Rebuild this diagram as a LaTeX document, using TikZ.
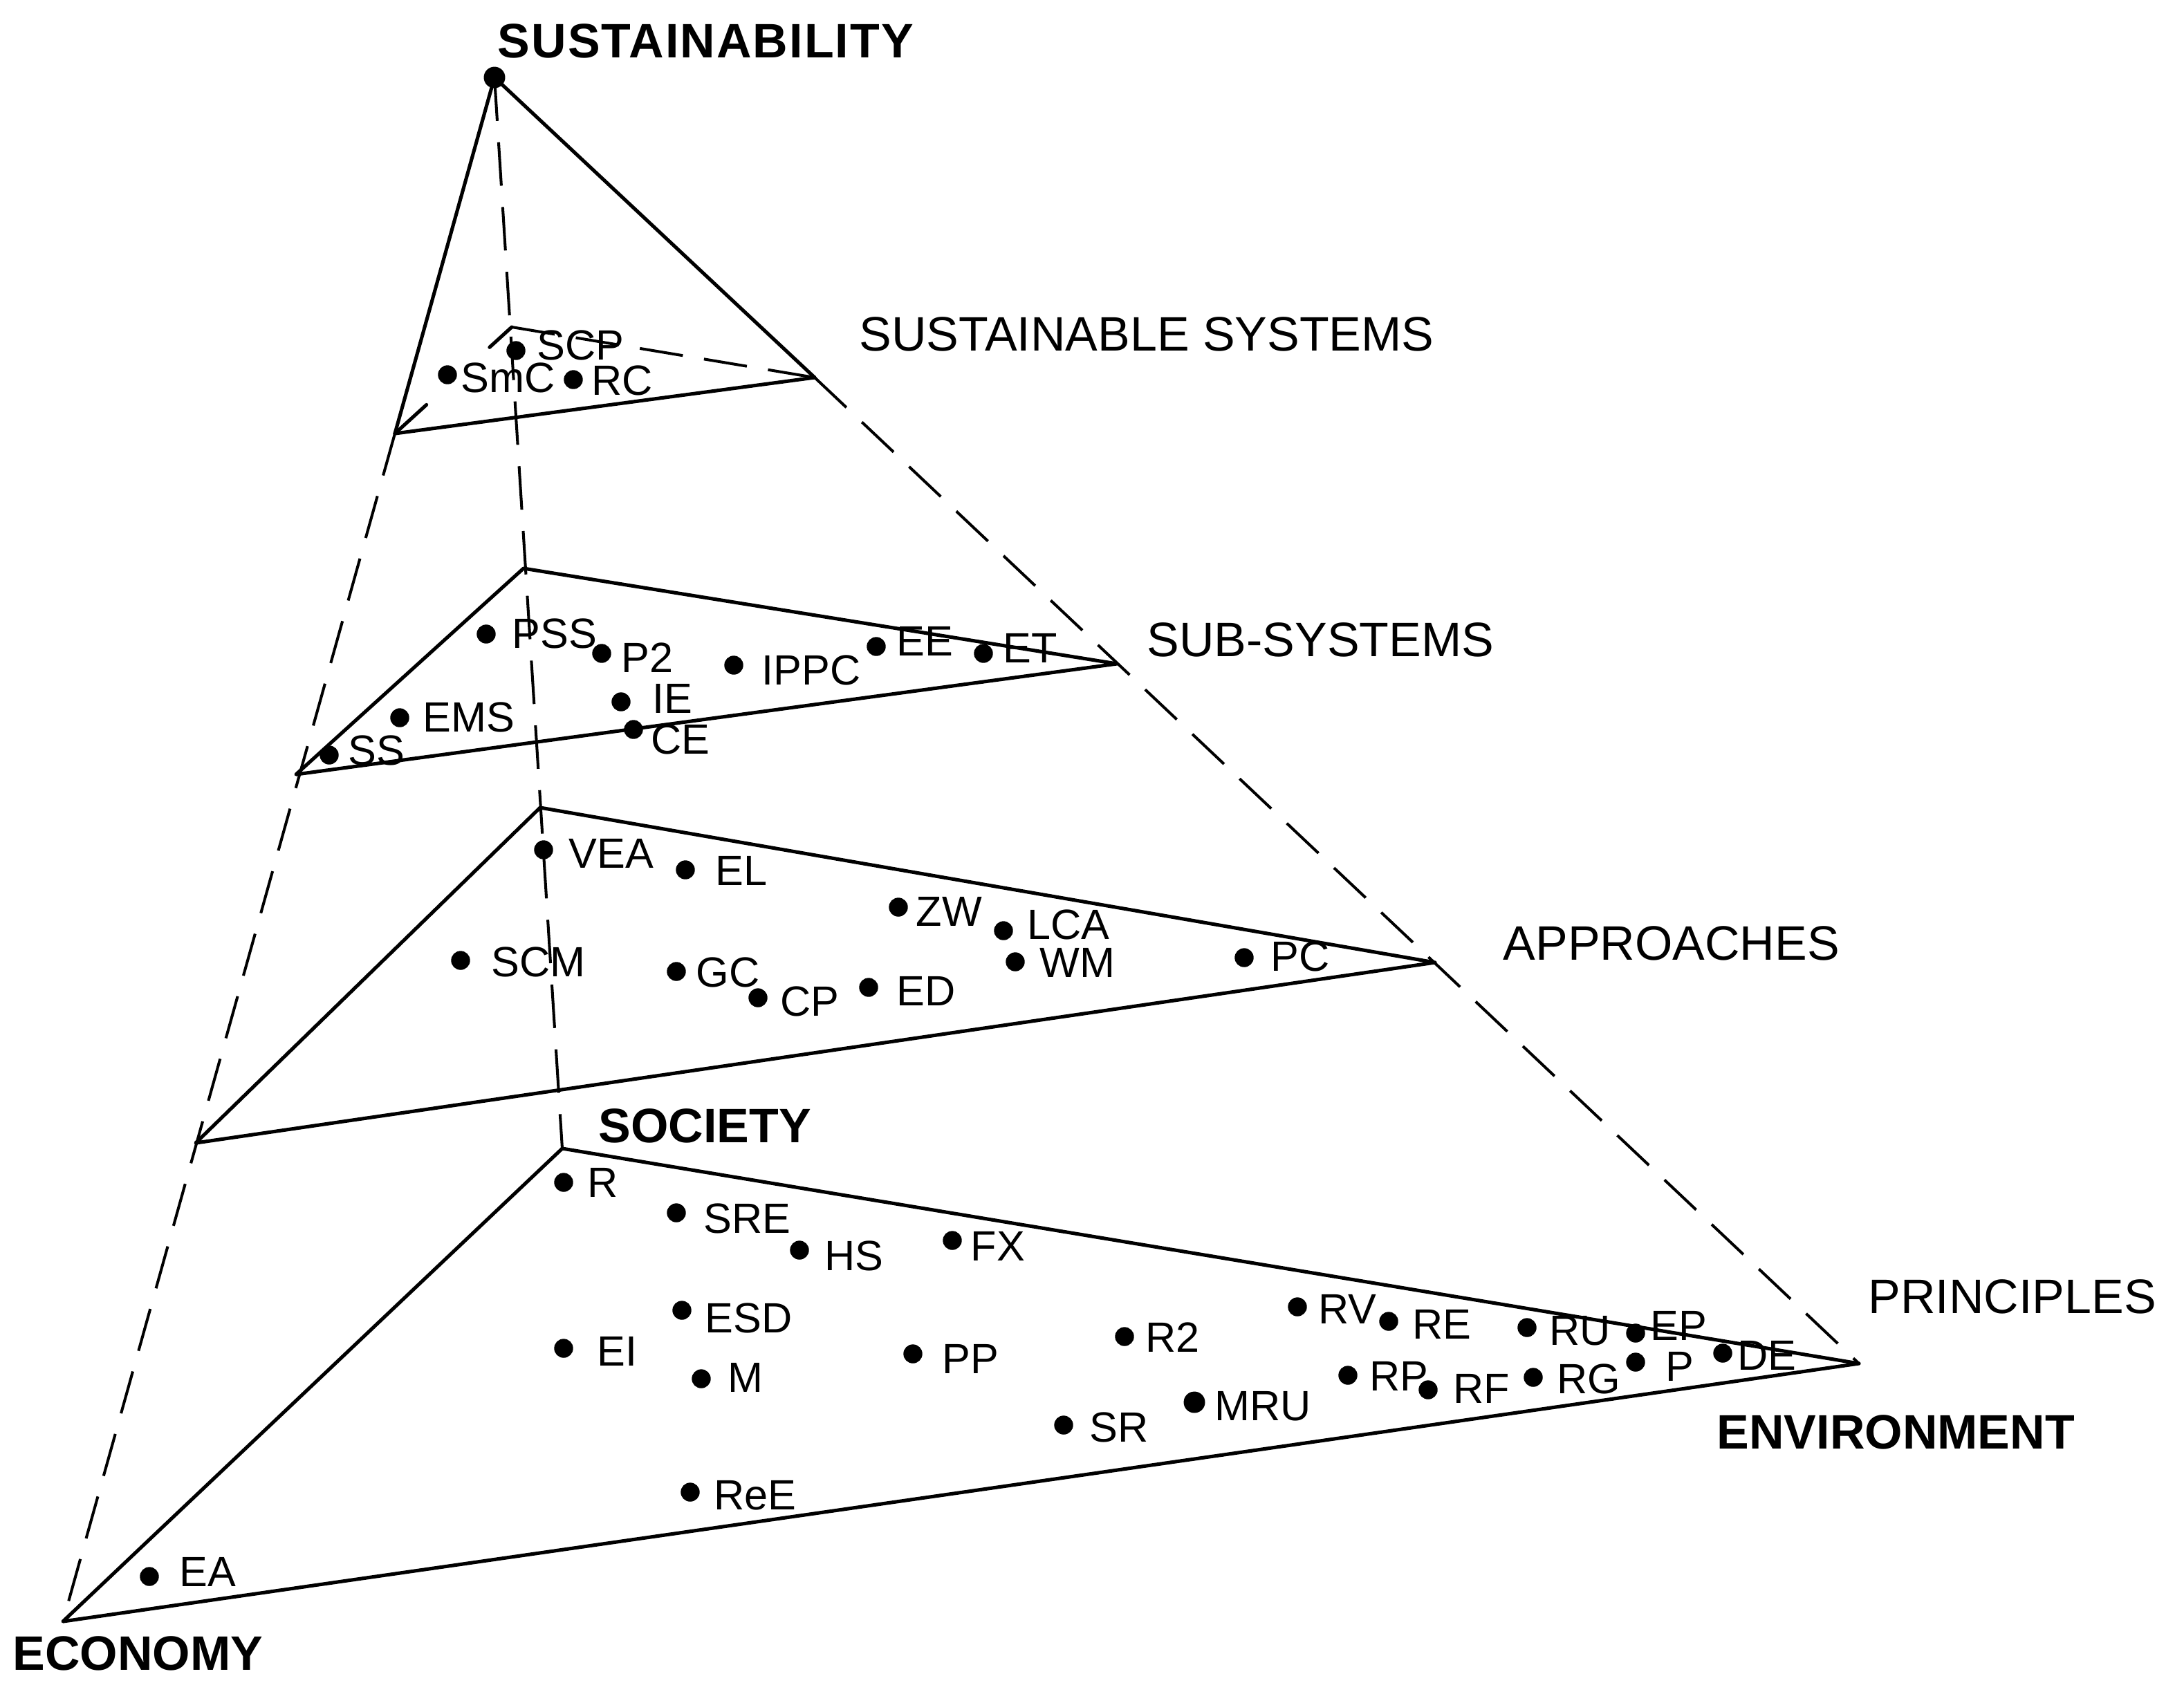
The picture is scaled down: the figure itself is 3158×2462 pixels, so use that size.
\documentclass[tikz,border=0pt]{standalone}
\usepackage{fontspec}
\setmainfont{Liberation Sans}
\usetikzlibrary{calc}
\newcommand\mypoint[4]{\node[dot] (d#1) at (#2) {}; \node[plabel] (t#1) at (#3) {#4};}
\begin{document}
\begin{tikzpicture}[x=0.01cm,y=-0.01cm,
  edge/.style={line width=1.45pt, line cap=round, line join=round},
  hidden/.style={line width=1.15pt, dash pattern=on 17.9pt off 8.8pt},
  dot/.style={circle, fill=black, inner sep=0pt, minimum size=7.8pt},
  bigdot/.style={circle, fill=black, inner sep=0pt, minimum size=8.8pt},
  plabel/.style={anchor=base west, inner sep=0pt, font=\fontsize{17.4}{20}\selectfont},
  lvl/.style={anchor=base west, inner sep=0pt, font=\fontsize{19.9}{24}\selectfont},
  corner/.style={anchor=base west, inner sep=0pt, font=\fontsize{19.9}{24}\selectfont\bfseries}]
\useasboundingbox[fill=white] (0,0) rectangle (3158,2462);

% corners
\coordinate (A) at (715,112);
\coordinate (E) at (91,2345);
\coordinate (V) at (2688,1972);
\coordinate (S) at (813,1661);
\coordinate (L1) at (571,627);
\coordinate (R1) at (1178,546);
\coordinate (B1) at (740,473);
\coordinate (L2) at (428,1120);
\coordinate (R2) at (1615,960);
\coordinate (B2) at (757,822);
\coordinate (L3) at (283,1653);
\coordinate (R3) at (2075,1392);
\coordinate (B3) at (781,1168);

% pyramid edges
\draw[edge] (A) -- (L1);
\draw[hidden] (L1) -- (E);
\draw[edge] (A) -- (R1);
\draw[hidden] (R1) -- (V);
\draw[hidden] (A) -- (S);

% level 1
\draw[edge] (L1) -- (R1);
\draw[hidden] (B1) -- (R1);
\draw[edge] (L1) -- ($(L1)!0.27!(B1)$);
\draw[edge] (B1) -- ($(B1)!0.19!(L1)$);
% level 2
\draw[edge] (L2) -- (B2) -- (R2) -- cycle;
% level 3
\draw[edge] (L3) -- (B3) -- (R3) -- cycle;
% level 4
\draw[edge] (E) -- (S) -- (V) -- cycle;

% apex
\node[bigdot] (dA) at (A) {};

% corner labels
\node[corner] (tSus) at (719,83) {\addfontfeature{LetterSpace=3}SUSTAINABILITY};
\node[corner] (tSoc) at (865,1652) {SOCIETY};
\node[corner] (tEco) at (18,2415) {ECONOMY};
\node[corner] (tEnv) at (2482,2095) {ENVIRONMENT};

% level labels
\node[lvl] (tL1) at (1242,507) {SUSTAINABLE SYSTEMS};
\node[lvl] (tL2) at (1658,949) {SUB-SYSTEMS};
\node[lvl] (tL3) at (2173,1388) {APPROACHES};
\node[lvl] (tL4) at (2701,1899) {PRINCIPLES};

% level 1 points
\mypoint{SCP}{746,507}{776,520}{SCP}
\mypoint{SmC}{647,542}{666,567}{SmC}
\mypoint{RC}{829,549}{855,571}{RC}

% level 2 points
\mypoint{PSS}{703,917}{740,937}{PSS}
\mypoint{P2}{870,945}{898,972}{P2}
\mypoint{IPPC}{1061,962}{1101,990}{IPPC}
\mypoint{EE}{1267,935}{1296,948}{EE}
\mypoint{ET}{1422,945}{1450,958}{ET}
\mypoint{IE}{898,1015}{943,1031}{IE}
\mypoint{CE}{916,1055}{941,1090}{CE}
\mypoint{EMS}{578,1038}{611,1058}{EMS}
\mypoint{SS}{476,1092}{503,1106}{SS}

% level 3 points
\mypoint{VEA}{786,1229}{822,1255}{VEA}
\mypoint{EL}{991,1258}{1034,1280}{EL}
\mypoint{SCM}{666,1389}{710,1412}{SCM}
\mypoint{GC}{978,1405}{1006,1427}{GC}
\mypoint{CP}{1096,1443}{1128,1469}{CP}
\mypoint{ZW}{1299,1312}{1324,1339}{ZW}
\mypoint{LCA}{1451,1346}{1485,1358}{LCA}
\mypoint{WM}{1468,1391}{1503,1413}{WM}
\mypoint{ED}{1256,1428}{1296,1454}{ED}
\mypoint{PC}{1799,1385}{1837,1404}{PC}

% level 4 points
\mypoint{R}{815,1710}{849,1731}{R}
\mypoint{SRE}{978,1754}{1017,1783}{SRE}
\mypoint{HS}{1156,1808}{1192,1837}{HS}
\mypoint{FX}{1377,1794}{1403,1823}{FX}
\mypoint{ESD}{986,1895}{1019,1927}{ESD}
\mypoint{EI}{815,1950}{863,1975}{EI}
\mypoint{M}{1014,1994}{1052,2013}{M}
\mypoint{PP}{1320,1958}{1362,1986}{PP}
\mypoint{Rtwo}{1626,1933}{1656,1955}{R2}
\mypoint{SR}{1538,2061}{1575,2085}{SR}
\node[bigdot] (dMRU) at (1727,2028) {};
\node[plabel] (tMRU) at (1756,2054) {MRU};
\mypoint{ReE}{998,2158}{1032,2183}{ReE}
\mypoint{EA}{216,2280}{259,2294}{EA}
\mypoint{RV}{1876,1890}{1906,1914}{RV}
\mypoint{RE}{2008,1911}{2042,1936}{RE}
\mypoint{RU}{2208,1920}{2240,1945}{RU}
\mypoint{EP}{2365,1928}{2386,1938}{EP}
\mypoint{DE}{2491,1957}{2512,1981}{DE}
\mypoint{P}{2365,1970}{2408,1997}{P}
\mypoint{RG}{2217,1992}{2251,2015}{RG}
\mypoint{RF}{2065,2010}{2101,2029}{RF}
\mypoint{RP}{1949,1989}{1980,2011}{RP}
\end{tikzpicture}
\end{document}
